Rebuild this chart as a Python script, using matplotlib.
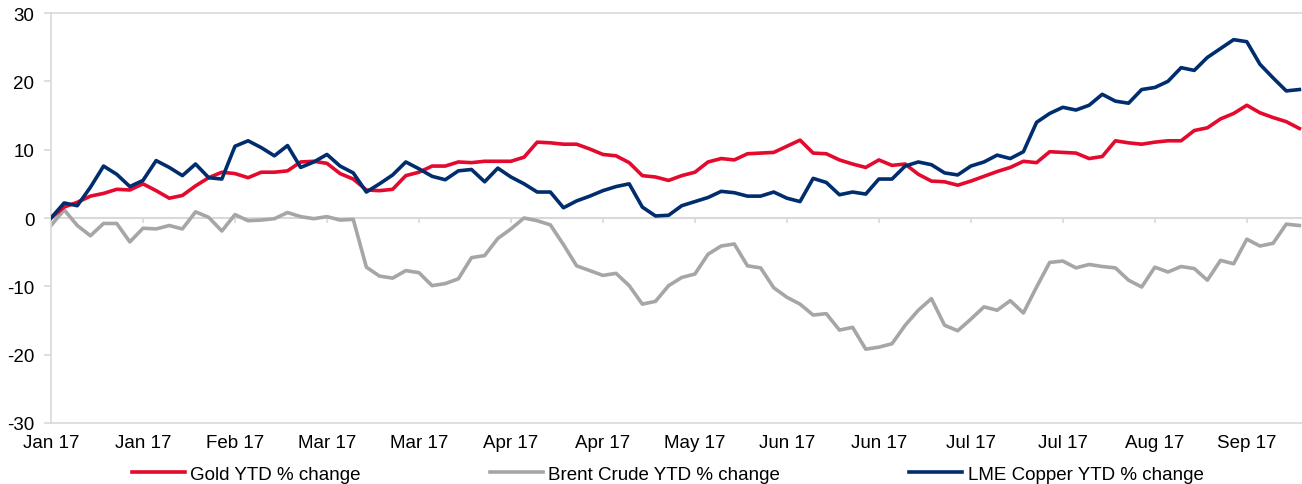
import matplotlib
matplotlib.use("Agg")
import matplotlib.pyplot as plt
import numpy as np

plt.rcParams['font.family'] = ['Liberation Sans', 'DejaVu Sans']
plt.rcParams['axes.unicode_minus'] = False

STEP = 2  # one reading every two trading days
TICK_EVERY = 14  # trading days between axis labels

# YTD % change, 2017
gold = [0.0, 1.6, 2.3, 3.2, 3.6, 4.2, 4.1, 5.0, 4.0, 2.9,
        3.3, 4.7, 5.9, 6.7, 6.5, 5.9, 6.7, 6.7, 6.9, 8.2,
        8.3, 8.0, 6.5, 5.7, 4.1, 4.0, 4.2, 6.2, 6.7, 7.6,
        7.6, 8.2, 8.1, 8.3, 8.3, 8.3, 8.9, 11.1, 11.0, 10.8,
        10.8, 10.1, 9.3, 9.1, 8.1, 6.2, 6.0, 5.5, 6.2, 6.7,
        8.2, 8.7, 8.5, 9.4, 9.5, 9.6, 10.5, 11.4, 9.5, 9.4,
        8.5, 7.9, 7.4, 8.5, 7.7, 7.9, 6.4, 5.4, 5.3, 4.8,
        5.4, 6.1, 6.8, 7.4, 8.3, 8.1, 9.7, 9.6, 9.5, 8.7,
        9.0, 11.3, 11.0, 10.8, 11.1, 11.3, 11.3, 12.8, 13.2, 14.5,
        15.3, 16.5, 15.4, 14.7, 14.1, 13.1]

brent = [-1.1, 1.2, -1.1, -2.6, -0.8, -0.8, -3.5, -1.5, -1.6, -1.1,
         -1.6, 0.9, 0.1, -1.9, 0.5, -0.4, -0.3, -0.1, 0.8, 0.2,
         -0.1, 0.2, -0.3, -0.2, -7.2, -8.5, -8.8, -7.7, -8.0, -9.9,
         -9.6, -8.9, -5.8, -5.5, -3.0, -1.6, 0.0, -0.4, -1.0, -3.9,
         -7.0, -7.7, -8.4, -8.1, -9.9, -12.6, -12.2, -9.9, -8.7, -8.2,
         -5.3, -4.1, -3.8, -7.0, -7.3, -10.2, -11.6, -12.6, -14.2, -14.0,
         -16.4, -16.0, -19.2, -18.9, -18.4, -15.7, -13.5, -11.8, -15.7, -16.5,
         -14.8, -13.0, -13.5, -12.1, -13.9, -10.1, -6.5, -6.3, -7.3, -6.8,
         -7.1, -7.3, -9.1, -10.1, -7.2, -7.9, -7.1, -7.4, -9.1, -6.2,
         -6.7, -3.1, -4.1, -3.7, -0.9, -1.1]

copper = [0.0, 2.2, 1.8, 4.5, 7.6, 6.4, 4.6, 5.5, 8.4, 7.4,
          6.2, 7.9, 5.9, 5.7, 10.5, 11.3, 10.3, 9.1, 10.6, 7.4,
          8.2, 9.3, 7.6, 6.6, 3.8, 5.0, 6.3, 8.2, 7.2, 6.1,
          5.6, 6.9, 7.1, 5.3, 7.3, 6.0, 5.0, 3.8, 3.8, 1.5,
          2.5, 3.2, 4.0, 4.6, 5.0, 1.6, 0.3, 0.4, 1.8, 2.4,
          3.0, 3.9, 3.7, 3.2, 3.2, 3.8, 2.9, 2.4, 5.8, 5.2,
          3.4, 3.8, 3.5, 5.7, 5.7, 7.6, 8.2, 7.8, 6.6, 6.3,
          7.6, 8.2, 9.2, 8.7, 9.7, 14.0, 15.3, 16.2, 15.8, 16.5,
          18.1, 17.1, 16.8, 18.8, 19.1, 20.0, 22.0, 21.6, 23.5, 24.8,
          26.1, 25.8, 22.5, 20.5, 18.6, 18.8]

tick_labels = ["Jan 17", "Jan 17", "Feb 17", "Mar 17", "Mar 17", "Apr 17", "Apr 17",
               "May 17", "Jun 17", "Jun 17", "Jul 17", "Jul 17", "Aug 17", "Sep 17"]

GRID = '#D9D9D9'
FONT_SIZE = 13.5


def main():
    fig = plt.figure(figsize=(13.02, 4.85), dpi=100)
    ax = fig.add_axes([51 / 1302, 1 - 424 / 485, 1 - 51 / 1302, 410 / 485])

    x = np.arange(len(gold)) * STEP
    ax.plot(x, gold, color='#E30A2D', lw=2.6, label='Gold YTD % change', zorder=3)
    ax.plot(x, brent, color='#A6A6A6', lw=2.6, label='Brent Crude YTD % change', zorder=2)
    ax.plot(x, copper, color='#002D6E', lw=2.6, label='LME Copper YTD % change', zorder=4)

    ax.set_xlim(0, 190.4)
    ax.set_ylim(-30, 30)
    ax.set_yticks(range(-30, 31, 10))

    ticks = np.arange(len(tick_labels)) * TICK_EVERY
    ax.set_xticks(ticks)
    ax.set_xticklabels(tick_labels)
    ax.tick_params(axis='x', length=0, pad=8, labelsize=FONT_SIZE)
    ax.tick_params(axis='y', length=5, width=1.2, color=GRID, pad=7, labelsize=FONT_SIZE)

    for side in ['top', 'left', 'bottom']:
        ax.spines[side].set_color(GRID)
        ax.spines[side].set_linewidth(1.2)
    ax.spines['right'].set_visible(False)

    # zero line with its own small downward ticks
    ax.axhline(0, color=GRID, lw=1.5, zorder=1)
    ax.plot(ticks, np.zeros(len(ticks)), ls='none', marker=3, ms=3.6, mew=1.2,
            color=GRID, zorder=1)

    fig.legend(loc='center left', bbox_to_anchor=(132 / 1302, 1 - 475 / 485), ncol=3,
               frameon=False, fontsize=FONT_SIZE, handlelength=2.8, handletextpad=0.3,
               columnspacing=6.9, borderpad=0, borderaxespad=0)

    fig.savefig('out.png', dpi=100)


if __name__ == "__main__":
    main()
